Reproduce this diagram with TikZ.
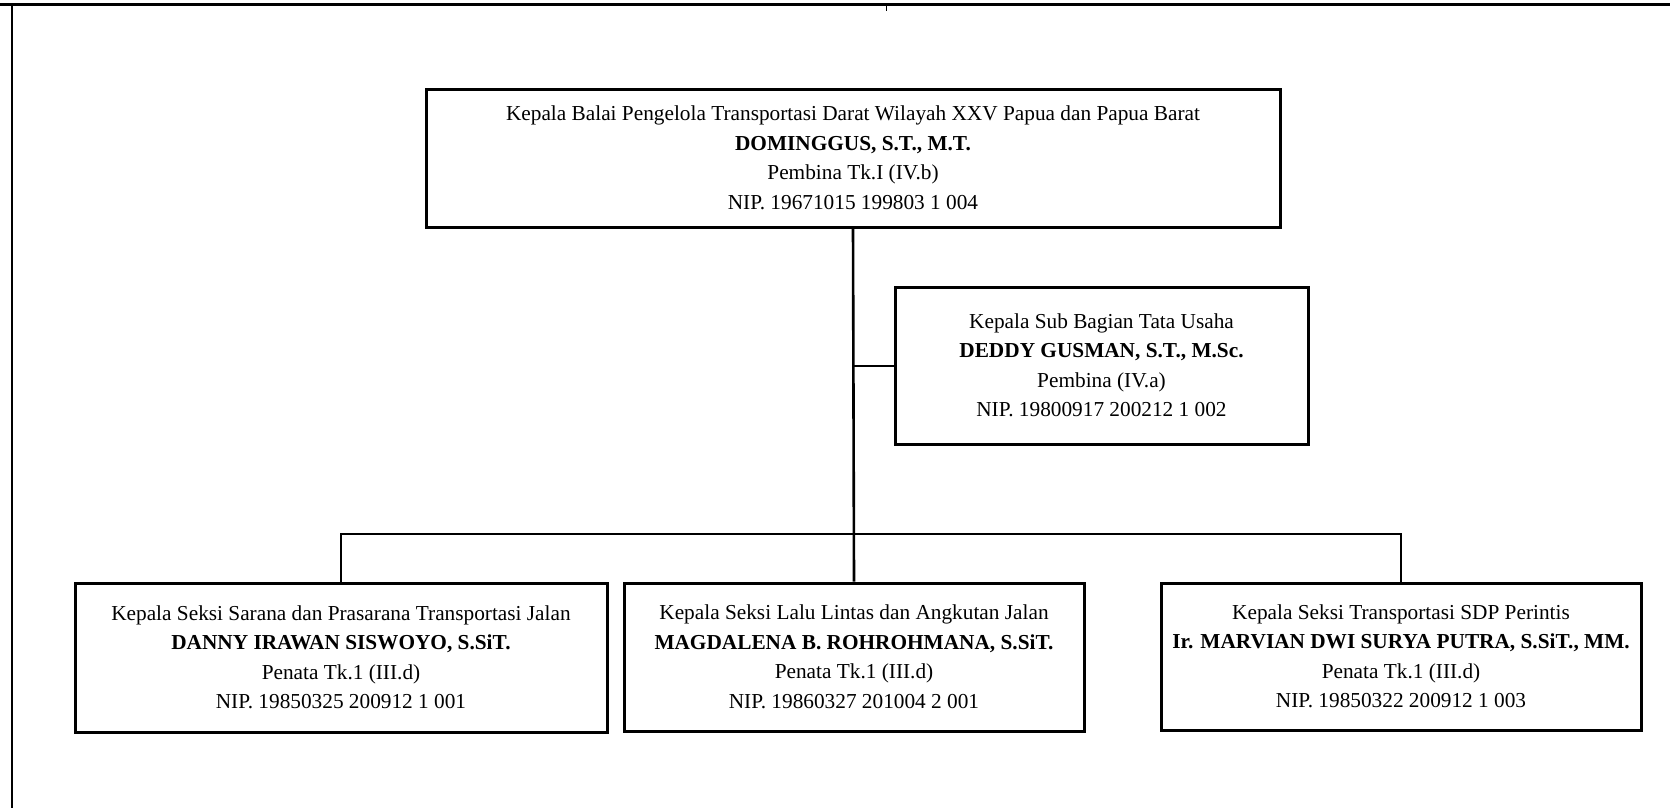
\documentclass[tikz,border=0pt]{standalone}
\usepackage{fontspec}
\setmainfont{Liberation Serif}
\usetikzlibrary{calc}

\tikzset{
  unit/.style={draw, line width=3pt, rectangle, inner sep=0pt},
  unittext/.style={align=center, inner sep=0pt,
    font=\fontsize{21.3}{29.5}\selectfont},
  link/.style={line width=2.6pt},
}

\begin{document}
\begin{tikzpicture}[x=1pt,y=-1pt]
			%%%%% FRAME %%%%%
			\useasboundingbox (0,0) rectangle (1670,808);
			\draw[line width=3pt] (0,5) -- (1670,5);
			\draw[line width=2pt] (12,5) -- (12,808);
			\draw[line width=1pt] (886,5) -- (886,11);
			
			%%%%% UNITS %%%%%
			\node[unit, minimum width=854pt, minimum height=138pt] (ka) at (853,158) {};
			\node[unit, minimum width=413pt, minimum height=157pt] (subag) at (1101.5,365.5) {};
			\node[unit, minimum width=532pt, minimum height=149pt] (seksiA) at (341,657.5) {};
			\node[unit, minimum width=460pt, minimum height=148pt] (seksiB) at (854,657) {};
			\node[unit, minimum width=480pt, minimum height=147pt] (seksiC) at (1401,656.5) {};
			
			\node[unittext] (kaTxt) at (ka.center) {Kepala Balai Pengelola Transportasi Darat Wilayah XXV Papua dan Papua Barat\\
				\textbf{DOMINGGUS, S.T., M.T.}\\ Pembina Tk.I (IV.b)\\ NIP. 19671015 199803 1 004};
			\node[unittext] (subagTxt) at (subag.center) {Kepala Sub Bagian Tata Usaha\\
				\textbf{DEDDY GUSMAN, S.T., M.Sc.}\\ Pembina (IV.a)\\ NIP. 19800917 200212 1 002};
			\node[unittext] (seksiATxt) at (seksiA.center) {Kepala Seksi Sarana dan Prasarana Transportasi Jalan\\
				\textbf{DANNY IRAWAN SISWOYO, S.SiT.}\\ Penata Tk.1 (III.d)\\ NIP. 19850325 200912 1 001};
			\node[unittext] (seksiBTxt) at (seksiB.center) {Kepala Seksi Lalu Lintas dan Angkutan Jalan\\
				\textbf{MAGDALENA B. ROHROHMANA, S.SiT.}\\ Penata Tk.1 (III.d)\\ NIP. 19860327 201004 2 001};
			\node[unittext] (seksiCTxt) at (seksiC.center) {Kepala Seksi Transportasi SDP Perintis\\
				\textbf{Ir. MARVIAN DWI SURYA PUTRA, S.SiT., MM.}\\ Penata Tk.1 (III.d)\\ NIP. 19850322 200912 1 003};
			
			%%%%% LINKS %%%%%
			\coordinate (bus) at (853,534);
			\draw[link] (ka.south) -- (seksiB.north);
			\draw[line width=2pt] (ka.south |- subag.west) -- (subag.west);
			\draw[link] (seksiA.north) -- (seksiA.north |- bus) -- (seksiC.north |- bus) -- (seksiC.north);
			
		\end{tikzpicture}
\end{document}
